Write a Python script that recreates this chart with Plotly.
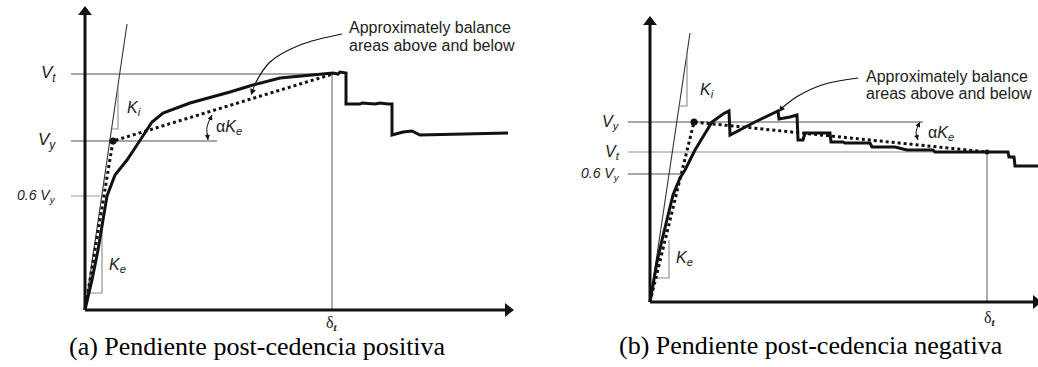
import plotly.graph_objects as go

# ---------------- Panel (a): positive post-yield slope ----------------
# displacement (d) and base shear (v) in drawing units, origin at the axes corner
a_curve_d = [0, 7, 13, 18, 22, 30, 42, 50, 58, 67, 78, 105, 145, 168, 195, 225, 248, 253,
             255, 261, 261, 275, 277, 290, 295, 303, 307, 307, 318, 327, 331, 335, 423]
a_curve_v = [0, 30, 60, 88, 114, 135, 150, 162, 174, 188, 197, 207, 218, 225, 232, 235, 237, 236,
             238, 237, 206, 206, 207, 206, 207, 206, 206, 175, 178, 179, 177, 175, 177]
a_bilin_d = [0, 28, 248]
a_bilin_v = [0, 169, 236]
a_Vt, a_Vy, a_V06 = 236, 169, 114
a_delta_t = 247
a_Ki_d, a_Ki_v = [0, 42], [0, 286]
a_Ki_tri_d, a_Ki_tri_v = [33, 33, 26.6], [225, 181, 181]
a_Ke_tri_d, a_Ke_tri_v = [17, 17, 2.8], [83, 17, 17]
a_leader_d, a_leader_v = [257, 215, 185, 170], [276, 265, 248, 226]
a_alpha_d, a_alpha_v = [127, 122, 123], [195, 183, 170]

# ---------------- Panel (b): negative post-yield slope ----------------
b_curve_d = [0, 3, 7, 12, 18, 23, 30, 35, 45, 55, 62, 73, 79, 80, 105, 128, 129, 140, 147, 148,
             153, 155, 180, 181, 193, 195, 220, 222, 245, 257, 283, 285, 300, 358, 359, 364, 365, 388]
b_curve_v = [0, 17, 40, 62, 87, 107, 124, 132, 152, 169, 180, 188, 191, 167, 180, 191, 183, 185, 187, 162,
             162, 169, 169, 160, 160, 159, 159, 155, 155, 152, 152, 150, 150, 150, 145, 145, 136, 136]
b_bilin_d = [0, 44, 337]
b_bilin_v = [0, 180, 150]
b_Vy, b_Vt, b_V06 = 180, 150, 128
b_delta_t = 337
b_Ki_d, b_Ki_v = [0, 40], [0, 269]
b_Ki_tri_d, b_Ki_tri_v = [37, 37, 29], [249, 196, 196]
b_Ke_tri_d, b_Ke_tri_v = [19, 19, 5.9], [62, 24, 24]
b_leader_d, b_leader_v = [208, 175, 148, 132], [224, 218, 206, 194]
b_alpha_d, b_alpha_v = [270, 266, 268], [180, 170, 162]

BLACK = "#111111"
GRAY = "#8a8a8a"
LIGHT = "#b5b5b5"
SANS = "Liberation Sans, Arial, sans-serif"
SERIF = "Liberation Serif, Times New Roman, serif"

fig = go.Figure()


def line(xs, ys, ax, color=BLACK, width=1.0, dash="solid", shape="linear"):
    fig.add_trace(go.Scatter(
        x=xs, y=ys, mode="lines", xaxis=ax[0], yaxis=ax[1],
        line=dict(color=color, width=width, dash=dash, shape=shape),
        hoverinfo="skip", showlegend=False, cliponaxis=False))


def marker(x, y, ax, symbol, size, color=BLACK):
    fig.add_trace(go.Scatter(
        x=[x], y=[y], mode="markers", xaxis=ax[0], yaxis=ax[1],
        marker=dict(symbol=symbol, size=size, color=color, line=dict(width=0)),
        hoverinfo="skip", showlegend=False, cliponaxis=False))


def text(x, y, s, ax, size=16, font=SANS, xanchor="left", color="#222222"):
    fig.add_annotation(x=x, y=y, xref=ax[0], yref=ax[1], text=s, showarrow=False,
                       xanchor=xanchor, yanchor="middle",
                       font=dict(family=font, size=size, color=color))


def arrow(x, y, x0, y0, ax, width=1.0, size=1.2):
    fig.add_annotation(x=x, y=y, ax=x0, ay=y0, xref=ax[0], yref=ax[1],
                       axref=ax[0], ayref=ax[1], text="", showarrow=True,
                       arrowhead=2, arrowsize=size, arrowwidth=width, arrowcolor=BLACK)


def panel(ax, curve_d, curve_v, bilin_d, bilin_v, levels, delta_t, vt,
          ki_d, ki_v, ki_tri, ke_tri, leader, alpha, x_end, y_end,
          ref_x0, vt_end, vy_end, v06_end):
    # reference levels
    (lv_t, col_t), (lv_y, col_y), (lv_06, col_06) = levels
    line([ref_x0, vt_end], [lv_t, lv_t], ax, col_t, 1.4)
    line([ref_x0, vy_end], [lv_y, lv_y], ax, col_y, 1.4)
    line([ref_x0, v06_end], [lv_06, lv_06], ax, col_06, 1.4)
    line([delta_t, delta_t], [0, vt], ax, GRAY, 1.4)
    # stiffness lines and triangles
    line(ki_d, ki_v, ax, "#333333", 1.1)
    line(ki_tri[0], ki_tri[1], ax, GRAY, 1.1)
    line(ke_tri[0], ke_tri[1], ax, GRAY, 1.1)
    # axes with arrows
    line([0, 0], [0, y_end], ax, BLACK, 3)
    line([0, x_end], [0, 0], ax, BLACK, 3)
    marker(0, y_end, ax, "triangle-up", 12)
    marker(x_end, 0, ax, "triangle-right", 12)
    # bilinear idealisation and capacity curve
    line(bilin_d, bilin_v, ax, BLACK, 3, dash="dot")
    line(curve_d, curve_v, ax, BLACK, 3)
    marker(bilin_d[1], bilin_v[1], ax, "circle", 7)
    # callout leader
    line(leader[0], leader[1], ax, BLACK, 1.2, shape="spline")
    # alpha*Ke angle marker
    line(alpha[0], alpha[1], ax, BLACK, 1.0, shape="spline")


ax_a = ("x", "y")
ax_b = ("x2", "y2")

panel(ax_a, a_curve_d, a_curve_v, a_bilin_d, a_bilin_v,
      [(a_Vt, GRAY), (a_Vy, GRAY), (a_V06, LIGHT)], a_delta_t, a_Vt,
      a_Ki_d, a_Ki_v, (a_Ki_tri_d, a_Ki_tri_v), (a_Ke_tri_d, a_Ke_tri_v),
      (a_leader_d, a_leader_v), (a_alpha_d, a_alpha_v), 423, 298,
      -14, 255, 132, 15)

panel(ax_b, b_curve_d, b_curve_v, b_bilin_d, b_bilin_v,
      [(b_Vt, LIGHT), (b_Vy, GRAY), (b_V06, GRAY)], b_delta_t, b_Vt,
      b_Ki_d, b_Ki_v, (b_Ki_tri_d, b_Ki_tri_v), (b_Ke_tri_d, b_Ke_tri_v),
      (b_leader_d, b_leader_v), (b_alpha_d, b_alpha_v), 386, 280,
      -22, 337, 273, 30)
marker(b_bilin_d[2], b_bilin_v[2], ax_b, "circle", 5)

# leader and angle arrowheads
arrow(166, 215, 170, 226, ax_a)
arrow(123, 170, 122, 178, ax_a, size=1.0)
arrow(127, 195, 124, 188, ax_a, size=1.0)
arrow(129, 190, 132, 194, ax_b)
arrow(268, 162, 266, 168, ax_b, size=1.0)
arrow(270, 180, 267, 174, ax_b, size=1.0)

# ---- panel (a) labels ----
text(-27, a_Vt, "<i>V<sub>t</sub></i>", ax_a, 17, xanchor="right")
text(-27, a_Vy, "<i>V<sub>y</sub></i>", ax_a, 17, xanchor="right")
text(-27, a_V06, "<i>0.6 V<sub>y</sub></i>", ax_a, 14, xanchor="right")
text(40, 202, "<i>K<sub>i</sub></i>", ax_a, 16)
text(22, 45, "<i>K<sub>e</sub></i>", ax_a, 16)
text(129, 183, "α<i>K<sub>e</sub></i>", ax_a, 16)
text(262, 283, "Approximately balance", ax_a, 16)
text(262, 265, "areas above and below", ax_a, 16)
text(a_delta_t, -13, "δ<sub><b><i>t</i></b></sub>", ax_a, 16, font=SERIF, xanchor="center")
text(172, -36, "(a) Pendiente post-cedencia positiva", ax_a, 26, font=SERIF,
     xanchor="center", color="#000000")

# ---- panel (b) labels ----
text(-28, b_Vy, "<i>V<sub>y</sub></i>", ax_b, 16, xanchor="right")
text(-28, b_Vt, "<i>V<sub>t</sub></i>", ax_b, 16, xanchor="right")
text(-28, b_V06, "<i>0.6 V<sub>y</sub></i>", ax_b, 14, xanchor="right")
text(48, 212, "<i>K<sub>i</sub></i>", ax_b, 16)
text(24, 44, "<i>K<sub>e</sub></i>", ax_b, 16)
text(276, 169, "α<i>K<sub>e</sub></i>", ax_b, 16)
text(214, 226, "Approximately balance", ax_b, 16)
text(214, 209, "areas above and below", ax_b, 16)
text(b_delta_t + 3, -16, "δ<sub><b><i>t</i></b></sub>", ax_b, 16, font=SERIF, xanchor="center")
text(161, -43, "(b) Pendiente post-cedencia negativa", ax_b, 26, font=SERIF,
     xanchor="center", color="#000000")

hidden = dict(visible=False, showgrid=False, zeroline=False, fixedrange=True)
fig.update_layout(
    width=1038, height=367,
    margin=dict(l=0, r=0, t=0, b=0),
    paper_bgcolor="white", plot_bgcolor="white",
    showlegend=False,
    xaxis=dict(domain=[0, 0.5], range=[-85, 434], anchor="y", **hidden),
    yaxis=dict(domain=[0, 1], range=[-57, 310], anchor="x", **hidden),
    xaxis2=dict(domain=[0.5, 1], range=[-131, 388], anchor="y2", **hidden),
    yaxis2=dict(domain=[0, 1], range=[-65, 302], anchor="x2", **hidden),
)

fig.write_html("out.html")
